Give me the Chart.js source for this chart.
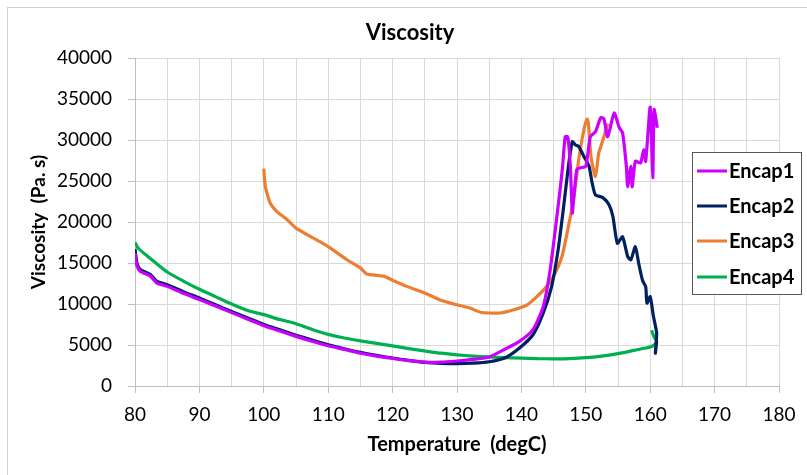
<!DOCTYPE html>
<html>
<head>
<meta charset="utf-8">
<script src="https://cdn.jsdelivr.net/npm/chart.js@4.4.1/dist/chart.umd.min.js"></script>
<style>
  html, body { margin: 0; padding: 0; background: #fff; }
  #wrap { width: 807px; height: 475px; }
</style>
</head>
<body>
<div id="wrap"><canvas id="c" width="807" height="475"></canvas></div>
<script>
// valores (temperatura en degC, viscosidad en Pa.s)
const seriesNames = ['Encap1', 'Encap2', 'Encap3', 'Encap4'];
const seriesColors = ['#cc00ff', '#002060', '#ed7d31', '#00b050'];

const encap1T = [80, 80.3, 80.8, 82.4, 83.4, 85, 87.5, 90, 92.5, 95, 97.5, 100, 102.5, 105, 107.5, 110, 112.5, 115, 117.5, 120, 122.5, 125, 127.5, 130, 132.5, 135, 137.5, 139.7, 141.8, 143.4, 144.4, 145.2, 146, 146.4, 146.8, 147.2, 147.6, 147.9, 148.1, 148.6, 149.1, 150, 150.7, 151.5, 152.3, 152.8, 153.4, 154.4, 155.2, 155.7, 156.3, 156.5, 157, 157.2, 157.7, 158.5, 159, 159.3, 160, 160.4, 160.6, 161.1];
const encap1V = [16200, 14700, 14000, 13400, 12550, 12150, 11300, 10550, 9750, 8950, 8150, 7350, 6700, 6050, 5450, 4900, 4450, 4000, 3650, 3350, 3100, 2920, 2900, 3050, 3250, 3540, 4510, 5440, 6870, 9700, 13800, 18650, 23900, 26800, 30400, 30400, 26800, 21100, 22700, 26400, 26600, 26800, 30400, 31000, 32700, 32600, 30400, 33300, 31500, 30900, 26800, 24300, 26800, 24300, 27400, 27200, 28800, 27400, 34000, 25400, 33700, 31500];

const encap2T = [80, 80.3, 80.8, 82.4, 83.4, 85, 87.5, 90, 92.5, 95, 97.5, 100, 102.5, 105, 107.5, 110, 112.5, 115, 117.5, 120, 122.5, 125, 127.5, 130, 132.5, 135, 137.5, 139.7, 141.8, 143.4, 144.7, 145.7, 146.5, 147.3, 147.9, 148.4, 148.9, 149.7, 150.5, 151, 151.5, 152.6, 153.6, 154.2, 154.9, 155.7, 156.5, 157, 157.7, 158.2, 158.8, 159.3, 159.5, 160, 160.5, 161, 160.8, 161];
const encap2V = [16700, 15000, 14200, 13600, 12750, 12350, 11500, 10730, 9900, 9100, 8300, 7500, 6850, 6200, 5600, 5040, 4550, 4100, 3730, 3410, 3120, 2880, 2760, 2720, 2780, 2960, 3450, 4630, 6250, 8900, 12150, 16600, 21500, 26800, 29800, 29400, 29200, 28000, 26800, 24700, 23300, 23000, 22100, 20700, 17400, 18200, 15800, 15400, 17000, 15000, 12900, 12100, 10100, 10900, 8500, 6450, 4000, 5450];

const encap3T = [100, 100.2, 100.5, 101, 102, 103.6, 105, 107.2, 110, 112.9, 115, 116, 118.6, 120, 122.2, 125, 127.4, 130, 132, 133.6, 135, 136.7, 138.8, 140.9, 143.5, 145, 146.3, 147.3, 148.1, 148.9, 149.7, 150.2, 150.4, 150.8, 151.5, 152, 152.5, 153.4];
const encap3V = [26500, 24500, 23500, 22300, 21300, 20300, 19250, 18250, 17000, 15400, 14400, 13650, 13400, 12900, 12150, 11350, 10500, 9900, 9500, 9000, 8900, 8900, 9300, 9900, 11750, 13400, 15800, 19450, 22700, 27600, 31250, 32550, 32100, 28000, 25550, 28400, 29600, 32000];

const encap4T = [80, 80.5, 82, 85, 87.5, 90, 92.5, 95, 97.5, 100, 102.5, 105, 107.5, 110, 112.5, 115, 117.5, 120, 122.5, 125, 127.5, 130, 132.5, 135, 137.5, 140, 142.5, 145, 147.5, 150, 152.5, 155, 157.5, 160, 160.6, 161, 160.6, 160.2];
const encap4V = [17500, 16800, 15800, 13900, 12800, 11800, 10900, 10000, 9200, 8700, 8100, 7600, 6900, 6300, 5850, 5500, 5200, 4900, 4550, 4270, 4000, 3800, 3650, 3550, 3450, 3400, 3330, 3320, 3350, 3450, 3650, 3940, 4350, 4750, 5000, 5400, 6000, 6800];

const xTicksMin = 80, xTicksMax = 180, xStep = 5;
const yTicksMin = 0, yTicksMax = 40000, yStep = 2500;

const allT = [encap1T, encap2T, encap3T, encap4T];
const allV = [encap1V, encap2V, encap3V, encap4V];

const FONT = "Lato, 'Open Sans', sans-serif";
const gridColor = '#d9d9d9';
const axisColor = '#bfbfbf';

const datasets = seriesNames.map((name, i) => ({
  label: name,
  data: allT[i].map((t, k) => ({ x: t, y: allV[i][k] })),
  borderColor: seriesColors[i],
  backgroundColor: seriesColors[i],
  borderWidth: 3.2,
  pointRadius: 0,
  showLine: true,
  tension: 0.2,
  fill: false,
}));

// fondo, marco, título y leyenda a mano
const framePlugin = {
  id: 'frame',
  beforeDraw(chart) {
    const { ctx, width, height } = chart;
    ctx.save();
    ctx.fillStyle = '#fff';
    ctx.fillRect(0, 0, width, height);
    ctx.strokeStyle = '#d0d0d0';
    ctx.lineWidth = 1;
    ctx.strokeRect(7.5, 7.5, width - 6, height - 4);
    ctx.restore();
  },
  afterDraw(chart) {
    const { ctx } = chart;
    ctx.save();
    ctx.fillStyle = '#000';
    ctx.font = `bold 22px ${FONT}`;
    ctx.textAlign = 'center';
    ctx.textBaseline = 'middle';
    ctx.fillText('Viscosity', 410, 33);

    // leyenda
    const bx = 692, by = 152, bw = 109, bh = 142;
    ctx.fillStyle = '#fff';
    ctx.fillRect(bx, by, bw, bh);
    ctx.strokeStyle = '#595959';
    ctx.lineWidth = 1;
    ctx.strokeRect(bx + 0.5, by + 0.5, bw, bh);
    const rows = [171, 206, 241, 277];
    chart.data.datasets.forEach((ds, i) => {
      const y = rows[i];
      ctx.strokeStyle = ds.borderColor;
      ctx.lineWidth = 3;
      ctx.beginPath();
      ctx.moveTo(697, y);
      ctx.lineTo(727, y);
      ctx.stroke();
      ctx.fillStyle = '#000';
      ctx.font = `bold 20px ${FONT}`;
      ctx.textAlign = 'left';
      ctx.textBaseline = 'middle';
      ctx.fillText(ds.label, 729, y + 1);
    });
    ctx.restore();
  },
};

new Chart(document.getElementById('c'), {
  type: 'scatter',
  data: { datasets },
  options: {
    responsive: false,
    animation: false,
    layout: { padding: { top: 58, right: 28, bottom: 0, left: 0 } },
    plugins: {
      legend: { display: false },
      title: { display: false },
      tooltip: { enabled: false },
    },
    scales: {
      x: {
        type: 'linear',
        min: xTicksMin,
        max: xTicksMax,
        afterFit: s => { s.height = 89; },
        ticks: {
          stepSize: xStep,
          autoSkip: false,
          maxRotation: 0,
          color: '#000',
          padding: 10,
          font: { family: FONT, size: 19 },
          callback: v => (v % 10 === 0 ? String(v) : ''),
        },
        grid: {
          color: gridColor,
          tickLength: 7,
          tickColor: c => (c.tick && c.tick.value % 10 === 0 ? axisColor : 'rgba(0,0,0,0)'),
        },
        border: { color: axisColor },
        title: {
          display: true,
          text: 'Temperature  (degC)',
          color: '#000',
          font: { family: FONT, size: 20, weight: 'bold' },
          padding: { top: 0, bottom: 18 },
        },
      },
      y: {
        min: yTicksMin,
        max: yTicksMax,
        afterFit: s => { s.width = 135; },
        ticks: {
          stepSize: yStep,
          color: '#000',
          padding: 16,
          font: { family: FONT, size: 19 },
          callback: v => (v % 5000 === 0 ? String(v) : ''),
        },
        grid: {
          color: gridColor,
          tickLength: 7,
          tickColor: c => (c.tick && c.tick.value % 5000 === 0 ? axisColor : 'rgba(0,0,0,0)'),
        },
        border: { color: axisColor },
        title: {
          display: true,
          text: 'Viscosity  (Pa. s)',
          color: '#000',
          font: { family: FONT, size: 19, weight: 'bold' },
          padding: { top: 27, bottom: 0 },
        },
      },
    },
  },
  plugins: [framePlugin],
});
</script>
</body>
</html>
